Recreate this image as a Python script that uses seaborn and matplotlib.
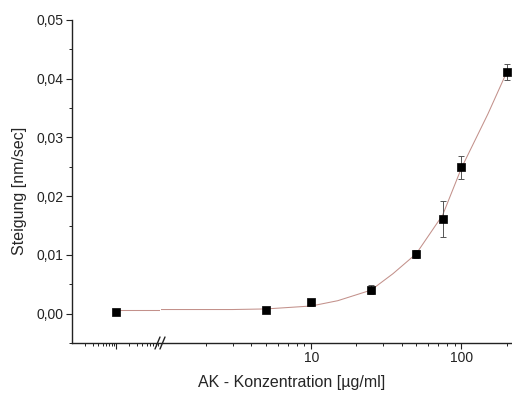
import matplotlib
matplotlib.use("Agg")
import matplotlib.pyplot as plt
import matplotlib.ticker as mticker
from matplotlib.lines import Line2D
import seaborn as sns
import pandas as pd

# measured points (first one sits on the broken low segment)
conc = [0.1, 5, 10, 25, 50, 75, 100, 200]
slope = [0.0003, 0.0007, 0.0019, 0.0041, 0.0101, 0.0161, 0.0249, 0.0411]
err = [0.0002, 0.0003, 0.0006, 0.0008, 0.0007, 0.0030, 0.0019, 0.0014]

# fit curve
fit_x = [0.12, 1, 3, 5, 10, 15, 25, 35, 50, 75, 100, 150, 200]
fit_y = [0.0007, 0.0007, 0.0007, 0.0008, 0.0013, 0.0022, 0.0040, 0.0068,
         0.0102, 0.0168, 0.0248, 0.0340, 0.0411]

y_ticks = [0.00, 0.01, 0.02, 0.03, 0.04, 0.05]

sns.set_theme(style="ticks")
plt.rcParams["font.family"] = ["Liberation Sans", "DejaVu Sans"]

W, H = 512, 394
fig = plt.figure(figsize=(W / 100, H / 100), dpi=100)
bot, top = 1 - 343 / H, 1 - 20 / H
ax_l = fig.add_axes([72 / W, bot, (160 - 72) / W, top - bot])
ax_r = fig.add_axes([161 / W, bot, (W - 161) / W, top - bot], sharey=ax_l)

df = pd.DataFrame({"conc": conc, "slope": slope, "err": err})
fit = pd.DataFrame({"x": fit_x, "y": fit_y})
line_col = "#c3918b"

for ax, lo, hi in [(ax_l, 0.0, 1.0), (ax_r, 1.0, 1e9)]:
    part = df[(df.conc >= lo) & (df.conc < hi)]
    fpart = fit[(fit.x >= lo) & (fit.x <= hi)]
    sns.lineplot(data=fpart, x="x", y="y", ax=ax, color=line_col, lw=0.75,
                 sort=False, estimator=None)
    ax.errorbar(part.conc, part.slope, yerr=part.err, fmt="none",
                ecolor="#555555", elinewidth=0.7, capsize=2.5, capthick=0.7)
    sns.scatterplot(data=part, x="conc", y="slope", ax=ax, marker="s",
                    color="black", s=38, edgecolor="black", zorder=5)
    ax.set_xscale("log")
    ax.set_xlabel("")
    ax.set_ylabel("")
    for s in ["top", "right"]:
        ax.spines[s].set_visible(False)
    ax.spines["bottom"].set_linewidth(1.0)
    ax.spines["bottom"].set_color("#222222")
    ax.tick_params(axis="x", which="major", direction="out", length=4,
                   width=0.8, colors="#222222", labelsize=10, pad=2)
    ax.tick_params(axis="x", which="minor", direction="out", length=2.5,
                   width=0.7, colors="#222222")

ax_l.set_xlim(0.01, 1.0)
ax_l.xaxis.set_major_formatter(mticker.NullFormatter())
ax_l.xaxis.set_minor_formatter(mticker.NullFormatter())
ax_l.set_xticks([0.1])

ax_r.set_xlim(1.0, 217)
ax_r.set_xticks([10, 100])
ax_r.set_xticklabels(["10", "100"])
ax_r.xaxis.set_minor_formatter(mticker.NullFormatter())
ax_r.spines["left"].set_visible(False)
ax_r.tick_params(axis="y", which="both", left=False, labelleft=False)

ax_l.set_ylim(-0.005, 0.05)
ax_l.set_yticks(y_ticks)
ax_l.set_yticklabels([f"{v:.2f}".replace(".", ",") for v in y_ticks])
ax_l.yaxis.set_minor_locator(mticker.MultipleLocator(0.005))
ax_l.spines["left"].set_linewidth(1.0)
ax_l.spines["left"].set_color("#222222")
ax_l.tick_params(axis="y", which="major", direction="out", length=4,
                 width=0.8, colors="#222222", labelsize=10, pad=2)
ax_l.tick_params(axis="y", which="minor", direction="out", length=2.5,
                 width=0.7, colors="#222222")

# axis break marks
for x0 in [155, 160]:
    fig.add_artist(Line2D([x0 / W, (x0 + 5) / W],
                          [1 - 349 / H, 1 - 337 / H],
                          color="#222222", lw=1.0))

fig.text(20 / W, 1 - 191 / H, "Steigung [nm/sec]", rotation=90,
         ha="center", va="center", fontsize=11.5)
fig.text(292 / W, 1 - 383 / H, "AK - Konzentration [µg/ml]",
         ha="center", va="center", fontsize=11.5)

fig.savefig("out.png", dpi=100)
